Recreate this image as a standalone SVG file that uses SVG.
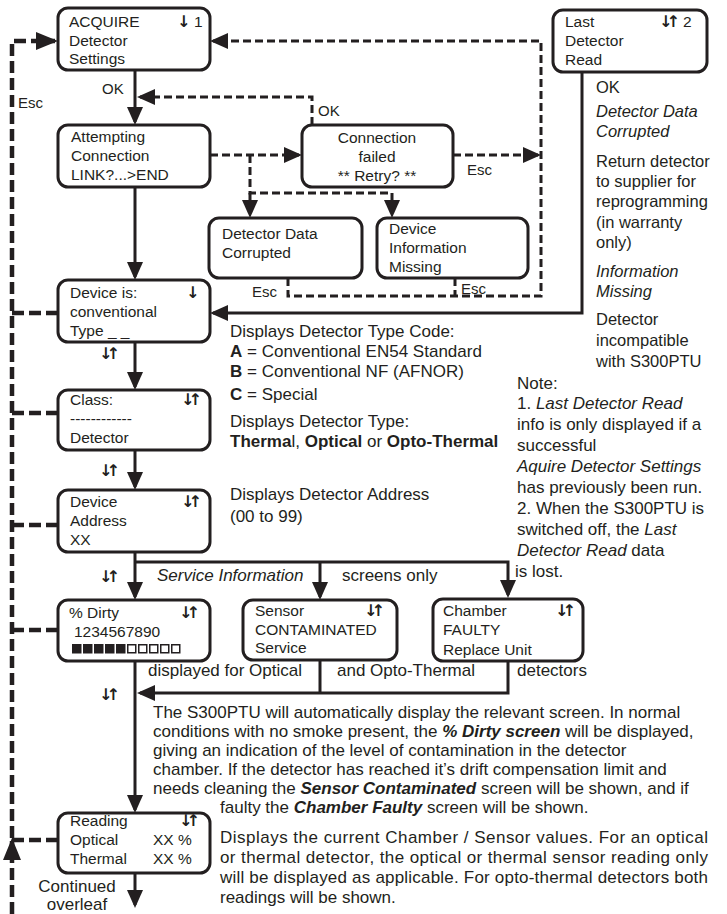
<svg xmlns="http://www.w3.org/2000/svg" width="727" height="914" viewBox="0 0 727 914">
<style>
text{font-family:"Liberation Sans",Arial,sans-serif;fill:#231f20}
.bx{font-size:15.5px}
.tx{font-size:17px}
.rc{font-size:16.5px}
.lb{font-size:15px}
.sym{font-family:"DejaVu Sans",sans-serif;font-size:16px;font-weight:bold;letter-spacing:-6px}
.box{fill:#fff;stroke:#231f20;stroke-width:3}
.ln{fill:none;stroke:#231f20;stroke-width:3}
.dh{fill:none;stroke:#231f20;stroke-width:4.5;stroke-dasharray:12 5}
.dt{fill:none;stroke:#231f20;stroke-width:3;stroke-dasharray:8 4}
.b{font-weight:bold}
.i{font-style:italic}
.bi{font-weight:bold;font-style:italic}
.sq{fill:#231f20}
.sqo{fill:none;stroke:#231f20;stroke-width:1.5}
</style>
<defs>
<marker id="ah" markerUnits="userSpaceOnUse" markerWidth="18" markerHeight="16" refX="15" refY="8" orient="auto" viewBox="0 0 18 16"><path d="M0,0L18,8L0,16z" fill="#231f20"/></marker>
<marker id="ahl" markerUnits="userSpaceOnUse" markerWidth="22" markerHeight="18" refX="19" refY="9" orient="auto" viewBox="0 0 22 18"><path d="M0,0L22,9L0,18z" fill="#231f20"/></marker>
</defs>

<!-- connectors -->
<g id="connectors">
  <!-- main flow -->
  <path class="ln" d="M135,70V122" marker-end="url(#ah)"/>
  <path class="ln" d="M135,187V277" marker-end="url(#ah)"/>
  <path class="ln" d="M135,342V387" marker-end="url(#ah)"/>
  <path class="ln" d="M135,450V487" marker-end="url(#ah)"/>
  <path class="ln" d="M135,552V597" marker-end="url(#ah)"/>
  <path class="ln" d="M135,661V810" marker-end="url(#ah)"/>
  <path class="ln" d="M135,873V905" marker-end="url(#ah)"/>
  <!-- service information branch -->
  <path class="ln" d="M135,562H508V595" marker-end="url(#ah)"/>
  <path class="ln" d="M320,562V597" marker-end="url(#ah)"/>
  <path class="ln" d="M320,660V693"/>
  <path class="ln" d="M508,661V693H140" marker-end="url(#ah)"/>
  <!-- last detector read -->
  <path class="ln" d="M582,72V313H213" marker-end="url(#ah)"/>
  <!-- escape return path -->
  <path class="dh" d="M12,838V41H55" marker-end="url(#ahl)"/>
  <path class="dh" d="M12,914V841" marker-end="url(#ahl)"/>
  <path class="dh" d="M12,313H58"/>
  <path class="dh" d="M12,413H58"/>
  <path class="dh" d="M12,525H58"/>
  <path class="dh" d="M12,630H58"/>
  <path class="dh" d="M12,840H58"/>
  <!-- connection dialogue -->
  <path class="dt" d="M210,155H299" marker-end="url(#ah)"/>
  <path class="dt" d="M312,125V97H140" marker-end="url(#ah)"/>
  <path class="dt" d="M453,155H538" marker-end="url(#ah)"/>
  <path class="dt" d="M250,155V193H392V215" marker-end="url(#ah)"/>
  <path class="dt" d="M250,193V215" marker-end="url(#ah)"/>
  <path class="dt" d="M288,278V296H541V41H213" marker-end="url(#ah)"/>
  <path class="dt" d="M455,278V296"/>
</g>

<!-- connector labels -->
<g id="labels">
  <text class="lb" x="18" y="108">Esc</text>
  <text class="lb" x="102" y="94">OK</text>
  <text class="lb" x="318" y="116">OK</text>
  <text class="lb" x="467" y="175">Esc</text>
  <text class="lb" x="252" y="297">Esc</text>
  <text class="lb" x="461" y="294">Esc</text>
  <text class="sym" x="99" y="359">↓↑</text>
  <text class="sym" x="99" y="476">↓↑</text>
  <text class="sym" x="99" y="582">↓↑</text>
  <text class="sym" x="99" y="700">↓↑</text>
  <text class="tx" x="77" y="892" text-anchor="middle">Continued</text>
  <text class="tx" x="77" y="910" text-anchor="middle">overleaf</text>
</g>

<!-- screens -->
<g id="acquire">
  <rect class="box" x="58" y="8" width="152" height="62" rx="10"/>
  <text class="bx" x="69" y="27">ACQUIRE</text>
  <text class="bx" x="69" y="46">Detector</text>
  <text class="bx" x="69" y="64">Settings</text>
  <text class="sym" x="177" y="27">↓</text>
  <text class="bx" x="194" y="27">1</text>
</g>
<g id="attempting">
  <rect class="box" x="58" y="125" width="152" height="62" rx="10"/>
  <text class="bx" x="71" y="142">Attempting</text>
  <text class="bx" x="71" y="161">Connection</text>
  <text class="bx" x="71" y="180">LINK?...&gt;END</text>
</g>
<g id="conn-failed">
  <rect class="box" x="302" y="125" width="151" height="62" rx="10"/>
  <text class="bx" x="377" y="143" text-anchor="middle">Connection</text>
  <text class="bx" x="377" y="162" text-anchor="middle">failed</text>
  <text class="bx" x="377" y="181" text-anchor="middle">** Retry? **</text>
</g>
<g id="data-corrupted">
  <rect class="box" x="209" y="218" width="153" height="60" rx="10"/>
  <text class="bx" x="222" y="239">Detector Data</text>
  <text class="bx" x="222" y="258">Corrupted</text>
</g>
<g id="info-missing">
  <rect class="box" x="377" y="218" width="151" height="60" rx="10"/>
  <text class="bx" x="389" y="234">Device</text>
  <text class="bx" x="389" y="253">Information</text>
  <text class="bx" x="389" y="272">Missing</text>
</g>
<g id="last-read">
  <rect class="box" x="553" y="10" width="154" height="62" rx="10"/>
  <text class="bx" x="565" y="27">Last</text>
  <text class="bx" x="565" y="46">Detector</text>
  <text class="bx" x="565" y="65">Read</text>
  <text class="sym" x="659" y="27">↓↑</text>
  <text class="bx" x="683" y="27">2</text>
</g>
<g id="device-type">
  <rect class="box" x="58" y="280" width="152" height="62" rx="10"/>
  <text class="bx" x="70" y="298">Device is:</text>
  <text class="bx" x="70" y="317">conventional</text>
  <text class="bx" x="70" y="336">Type _ _</text>
  <text class="sym" x="186" y="298">↓</text>
</g>
<g id="class">
  <rect class="box" x="58" y="390" width="152" height="60" rx="10"/>
  <text class="bx" x="70" y="405">Class:</text>
  <text class="bx" x="70" y="424">------------</text>
  <text class="bx" x="70" y="443">Detector</text>
  <text class="sym" x="181" y="405">↓↑</text>
</g>
<g id="address">
  <rect class="box" x="58" y="490" width="152" height="62" rx="10"/>
  <text class="bx" x="70" y="507">Device</text>
  <text class="bx" x="70" y="526">Address</text>
  <text class="bx" x="70" y="545">XX</text>
  <text class="sym" x="181" y="507">↓↑</text>
</g>
<g id="dirty">
  <rect class="box" x="58" y="600" width="152" height="61" rx="10"/>
  <text class="bx" x="69" y="618">% Dirty</text>
  <text class="bx" x="74" y="637">1234567890</text>
  <text class="sym" x="179" y="618">↓↑</text>
  <rect class="sq" x="72" y="644" width="9.5" height="9.5"/>
  <rect class="sq" x="83" y="644" width="9.5" height="9.5"/>
  <rect class="sq" x="94" y="644" width="9.5" height="9.5"/>
  <rect class="sq" x="105" y="644" width="9.5" height="9.5"/>
  <rect class="sq" x="116" y="644" width="9.5" height="9.5"/>
  <rect class="sqo" x="127.75" y="644.75" width="8" height="8"/>
  <rect class="sqo" x="138.75" y="644.75" width="8" height="8"/>
  <rect class="sqo" x="149.75" y="644.75" width="8" height="8"/>
  <rect class="sqo" x="160.75" y="644.75" width="8" height="8"/>
  <rect class="sqo" x="171.75" y="644.75" width="8" height="8"/>
</g>
<g id="sensor">
  <rect class="box" x="243" y="600" width="154" height="60" rx="10"/>
  <text class="bx" x="255" y="616">Sensor</text>
  <text class="bx" x="255" y="635">CONTAMINATED</text>
  <text class="bx" x="255" y="653">Service</text>
  <text class="sym" x="364" y="616">↓↑</text>
</g>
<g id="chamber">
  <rect class="box" x="433" y="599" width="150" height="62" rx="10"/>
  <text class="bx" x="443" y="616">Chamber</text>
  <text class="bx" x="443" y="635">FAULTY</text>
  <text class="bx" x="443" y="655">Replace Unit</text>
  <text class="sym" x="555" y="616">↓↑</text>
</g>
<g id="reading">
  <rect class="box" x="58" y="813" width="152" height="60" rx="10"/>
  <text class="bx" x="70" y="826">Reading</text>
  <text class="bx" x="70" y="845">Optical</text>
  <text class="bx" x="70" y="864">Thermal</text>
  <text class="bx" x="153" y="845">XX %</text>
  <text class="bx" x="153" y="864">XX %</text>
  <text class="sym" x="179" y="826">↓↑</text>
</g>

<!-- explanatory notes -->
<g id="notes">
  <text class="rc" x="596" y="93">OK</text>
  <text class="rc i" x="596" y="117">Detector Data</text>
  <text class="rc i" x="596" y="137">Corrupted</text>
  <text class="rc" x="596" y="167">Return detector</text>
  <text class="rc" x="596" y="187">to supplier for</text>
  <text class="rc" x="596" y="207">reprogramming</text>
  <text class="rc" x="596" y="228">(in warranty</text>
  <text class="rc" x="596" y="248">only)</text>
  <text class="rc i" x="596" y="277">Information</text>
  <text class="rc i" x="596" y="297">Missing</text>
  <text class="rc" x="596" y="325">Detector</text>
  <text class="rc" x="596" y="346">incompatible</text>
  <text class="rc" x="596" y="367">with S300PTU</text>

  <text class="tx" x="230" y="337">Displays Detector Type Code:</text>
  <text class="tx" x="230" y="357"><tspan class="b">A</tspan> = Conventional EN54 Standard</text>
  <text class="tx" x="230" y="377"><tspan class="b">B</tspan> = Conventional NF (AFNOR)</text>
  <text class="tx" x="230" y="400"><tspan class="b">C</tspan> = Special</text>
  <text class="tx" x="230" y="427">Displays Detector Type:</text>
  <text class="tx" x="230" y="447"><tspan class="b">Therma</tspan>l, <tspan class="b">Optical</tspan> or <tspan class="b">Opto-Thermal</tspan></text>
  <text class="tx" x="230" y="500">Displays Detector Address</text>
  <text class="tx" x="230" y="522">(00 to 99)</text>

  <text class="tx" x="517" y="389">Note:</text>
  <text class="tx" x="517" y="409">1. <tspan class="i">Last Detector Read</tspan></text>
  <text class="tx" x="517" y="430">info is only displayed if a</text>
  <text class="tx" x="517" y="451">successful</text>
  <text class="tx i" x="517" y="472">Aquire Detector Settings</text>
  <text class="tx" x="517" y="493">has previously been run.</text>
  <text class="tx" x="517" y="514">2. When the S300PTU is</text>
  <text class="tx" x="517" y="535">switched off, the <tspan class="i">Last</tspan></text>
  <text class="tx" x="517" y="556"><tspan class="i">Detector Read</tspan> data</text>
  <text class="tx" x="515" y="577">is lost.</text>

  <text class="tx" x="157" y="581"><tspan class="i">Service Information</tspan></text>
  <text class="tx" x="342" y="581">screens only</text>
  <text class="tx" x="148" y="676">displayed for Optical</text>
  <text class="tx" x="337" y="676">and Opto-Thermal</text>
  <text class="tx" x="517" y="676">detectors</text>

  <text class="tx" x="153" y="718">The S300PTU will automatically display the relevant screen. In normal</text>
  <text class="tx" x="153" y="737">conditions with no smoke present, the <tspan class="bi">% Dirty screen</tspan> will be displayed,</text>
  <text class="tx" x="153" y="756">giving an indication of the level of contamination in the detector</text>
  <text class="tx" x="153" y="775">chamber. If the detector has reached it’s drift compensation limit and</text>
  <text class="tx" x="153" y="794">needs cleaning the <tspan class="bi">Sensor Contaminated</tspan> screen will be shown, and if</text>
  <text class="tx" x="220" y="813">faulty the <tspan class="bi">Chamber Faulty</tspan> screen will be shown.</text>

  <text class="tx" x="220" y="843" textLength="488" lengthAdjust="spacing">Displays the current Chamber / Sensor values. For an optical</text>
  <text class="tx" x="220" y="863" textLength="488" lengthAdjust="spacing">or thermal detector, the optical or thermal sensor reading only</text>
  <text class="tx" x="220" y="883" textLength="488" lengthAdjust="spacing">will be displayed as applicable. For opto-thermal detectors both</text>
  <text class="tx" x="220" y="903">readings will be shown.</text>
</g>
</svg>
